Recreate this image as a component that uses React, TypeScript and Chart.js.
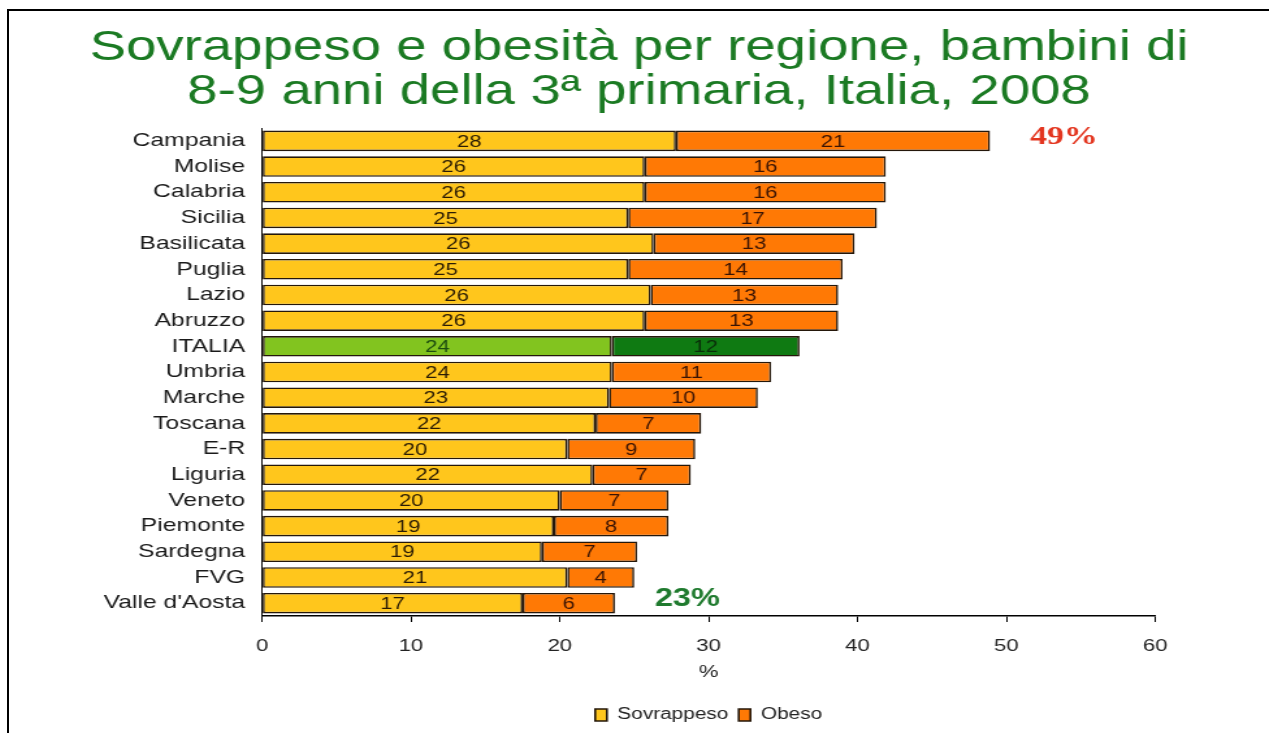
import React, { useEffect, useRef } from "react";
import { Chart, registerables } from "chart.js";

Chart.register(...registerables);

// ---------- data ----------
const regions = [
  "Campania", "Molise", "Calabria", "Sicilia", "Basilicata", "Puglia", "Lazio", "Abruzzo",
  "ITALIA", "Umbria", "Marche", "Toscana", "E-R", "Liguria", "Veneto", "Piemonte",
  "Sardegna", "FVG", "Valle d'Aosta",
];
// drawn segment lengths
const sovrappeso = [27.8, 25.7, 25.7, 24.6, 26.3, 24.6, 26.1, 25.7, 23.5, 23.5, 23.3, 22.4, 20.5, 22.2, 20.0, 19.6, 18.8, 20.5, 17.5];
const obeso = [21.1, 16.2, 16.2, 16.7, 13.5, 14.4, 12.6, 13.0, 12.6, 10.7, 10.0, 7.1, 8.6, 6.6, 7.3, 7.7, 6.4, 4.5, 6.2];
// printed values inside the bars
const sovrappesoLabels = [28, 26, 26, 25, 26, 25, 26, 26, 24, 24, 23, 22, 20, 22, 20, 19, 19, 21, 17];
const obesoLabels = [21, 16, 16, 17, 13, 14, 13, 13, 12, 11, 10, 7, 9, 7, 7, 8, 7, 4, 6];
const seriesNames = ["Sovrappeso", "Obeso"];
const titleLines = ["Sovrappeso e obesità per regione, bambini di", "8-9 anni della 3ª primaria, Italia, 2008"];
const axisTitle = "%";
const xMin = 0;
const xMax = 60;
const xStep = 10;
const highlightIndex = [0, 18];
const highlightText = ["49%", "23%"];

// ---------- layout (canvas is stretched horizontally like the reference) ----------
const S = 1.3;
const CANVAS_W = 969;
const CANVAS_H = 722;
const FONT = "'Liberation Sans', Arial, sans-serif";

export default function App() {
  const ref = useRef<HTMLCanvasElement | null>(null);

  useEffect(() => {
    const canvas = ref.current;
    if (!canvas) return;
    const italia = regions.indexOf("ITALIA");
    const allLabels = [sovrappesoLabels, obesoLabels];

    const dataLabels = {
      id: "dataLabels",
      afterDatasetsDraw(chart: any) {
        const ctx = chart.ctx;
        ctx.save();
        ctx.font = `17px ${FONT}`;
        ctx.textAlign = "center";
        ctx.textBaseline = "middle";
        chart.data.datasets.forEach((_: any, di: number) => {
          const meta = chart.getDatasetMeta(di);
          meta.data.forEach((el: any, j: number) => {
            const p = el.getProps(["x", "y", "base"], true);
            ctx.fillStyle = j === italia ? (di === 0 ? "#1d4d10" : "#0a2e0a") : (di === 0 ? "#2b1c05" : "#3a1404");
            ctx.fillText(String(allLabels[di][j]), (p.x + p.base) / 2, p.y + 1);
          });
        });
        ctx.restore();
      },
    };

    const highlight = {
      id: "highlight",
      afterDatasetsDraw(chart: any) {
        const ctx = chart.ctx;
        const meta = chart.getDatasetMeta(1);
        ctx.save();
        ctx.textAlign = "left";
        ctx.textBaseline = "middle";
        highlightIndex.forEach((idx, k) => {
          const el = meta.data[idx];
          const p = el.getProps(["x", "y"], true);
          if (k === 0) {
            ctx.font = `bold 26px "Liberation Serif", "DejaVu Serif", serif`;
            ctx.fillStyle = "#e3351f";
          } else {
            ctx.font = `bold 25px ${FONT}`;
            ctx.fillStyle = "#1f7a2e";
          }
          ctx.fillText(highlightText[k], p.x + 40 / S, p.y - 4);
        });
        ctx.restore();
      },
    };

    const chart = new Chart(canvas, {
      type: "bar",
      data: {
        labels: regions,
        datasets: [
          {
            label: seriesNames[0],
            data: sovrappeso,
            backgroundColor: (c: any) => (c.dataIndex === italia ? "#82c41f" : "#ffc61c"),
            borderColor: "#24170a",
            borderWidth: 1.6,
            borderSkipped: false,
            barPercentage: 0.8,
            categoryPercentage: 1,
          },
          {
            label: seriesNames[1],
            data: obeso,
            backgroundColor: (c: any) => (c.dataIndex === italia ? "#0f7a12" : "#ff7905"),
            borderColor: "#24170a",
            borderWidth: 1.6,
            borderSkipped: false,
            barPercentage: 0.8,
            categoryPercentage: 1,
          },
        ],
      },
      options: {
        indexAxis: "y",
        responsive: false,
        animation: false,
        devicePixelRatio: 1,
        font: { family: FONT },
        layout: { padding: 0 },
        scales: {
          x: {
            stacked: true,
            min: xMin,
            max: xMax,
            ticks: { stepSize: xStep, padding: 14, color: "#222", font: { size: 17, family: FONT } },
            grid: { drawOnChartArea: false, drawTicks: true, tickLength: 6, color: "#000", lineWidth: 1 },
            border: { display: true, color: "#000", width: 1.5 },
            title: {
              display: true,
              text: axisTitle,
              color: "#222",
              font: { size: 17, family: FONT },
              padding: { top: 0, bottom: 16 },
            },
            afterFit: (s: any) => {
              s.height = 83;
            },
          },
          y: {
            stacked: true,
            ticks: { padding: 13, autoSkip: false, color: "#1a1a1a", font: { size: 19, family: FONT } },
            grid: { display: false, drawTicks: false },
            border: { display: true, color: "#000", width: 1 },
            afterFit: (s: any) => {
              s.width = (262 - 9) / S;
            },
          },
          yRight: {
            type: "category",
            position: "right",
            display: true,
            ticks: { display: false },
            grid: { display: false, drawTicks: false },
            border: { display: false },
            afterFit: (s: any) => {
              s.width = CANVAS_W - (1155 - 9) / S;
            },
          },
        },
        plugins: {
          title: {
            display: true,
            text: titleLines,
            color: "#1b7a23",
            font: { size: 42, family: FONT, weight: "normal", lineHeight: 1.06 },
            padding: { top: 15, bottom: 13 },
          },
          legend: {
            position: "bottom",
            fullSize: false,
            labels: {
              boxWidth: 9,
              boxHeight: 12,
              padding: 8,
              color: "#222",
              font: { size: 16, family: FONT },
            },
          },
          tooltip: { enabled: false },
        },
      } as any,
      plugins: [dataLabels, highlight],
    });
    return () => chart.destroy();
  }, []);

  return (
    <div
      style={{
        position: "absolute",
        left: 7,
        top: 9,
        width: 1262,
        height: 724,
        boxSizing: "border-box",
        borderLeft: "2px solid #000",
        borderTop: "2px solid #000",
        background: "#fff",
        overflow: "hidden",
      }}
    >
      <canvas
        ref={ref}
        width={CANVAS_W}
        height={CANVAS_H}
        style={{ width: `${CANVAS_W * S}px`, height: `${CANVAS_H}px`, display: "block" }}
      />
    </div>
  );
}
